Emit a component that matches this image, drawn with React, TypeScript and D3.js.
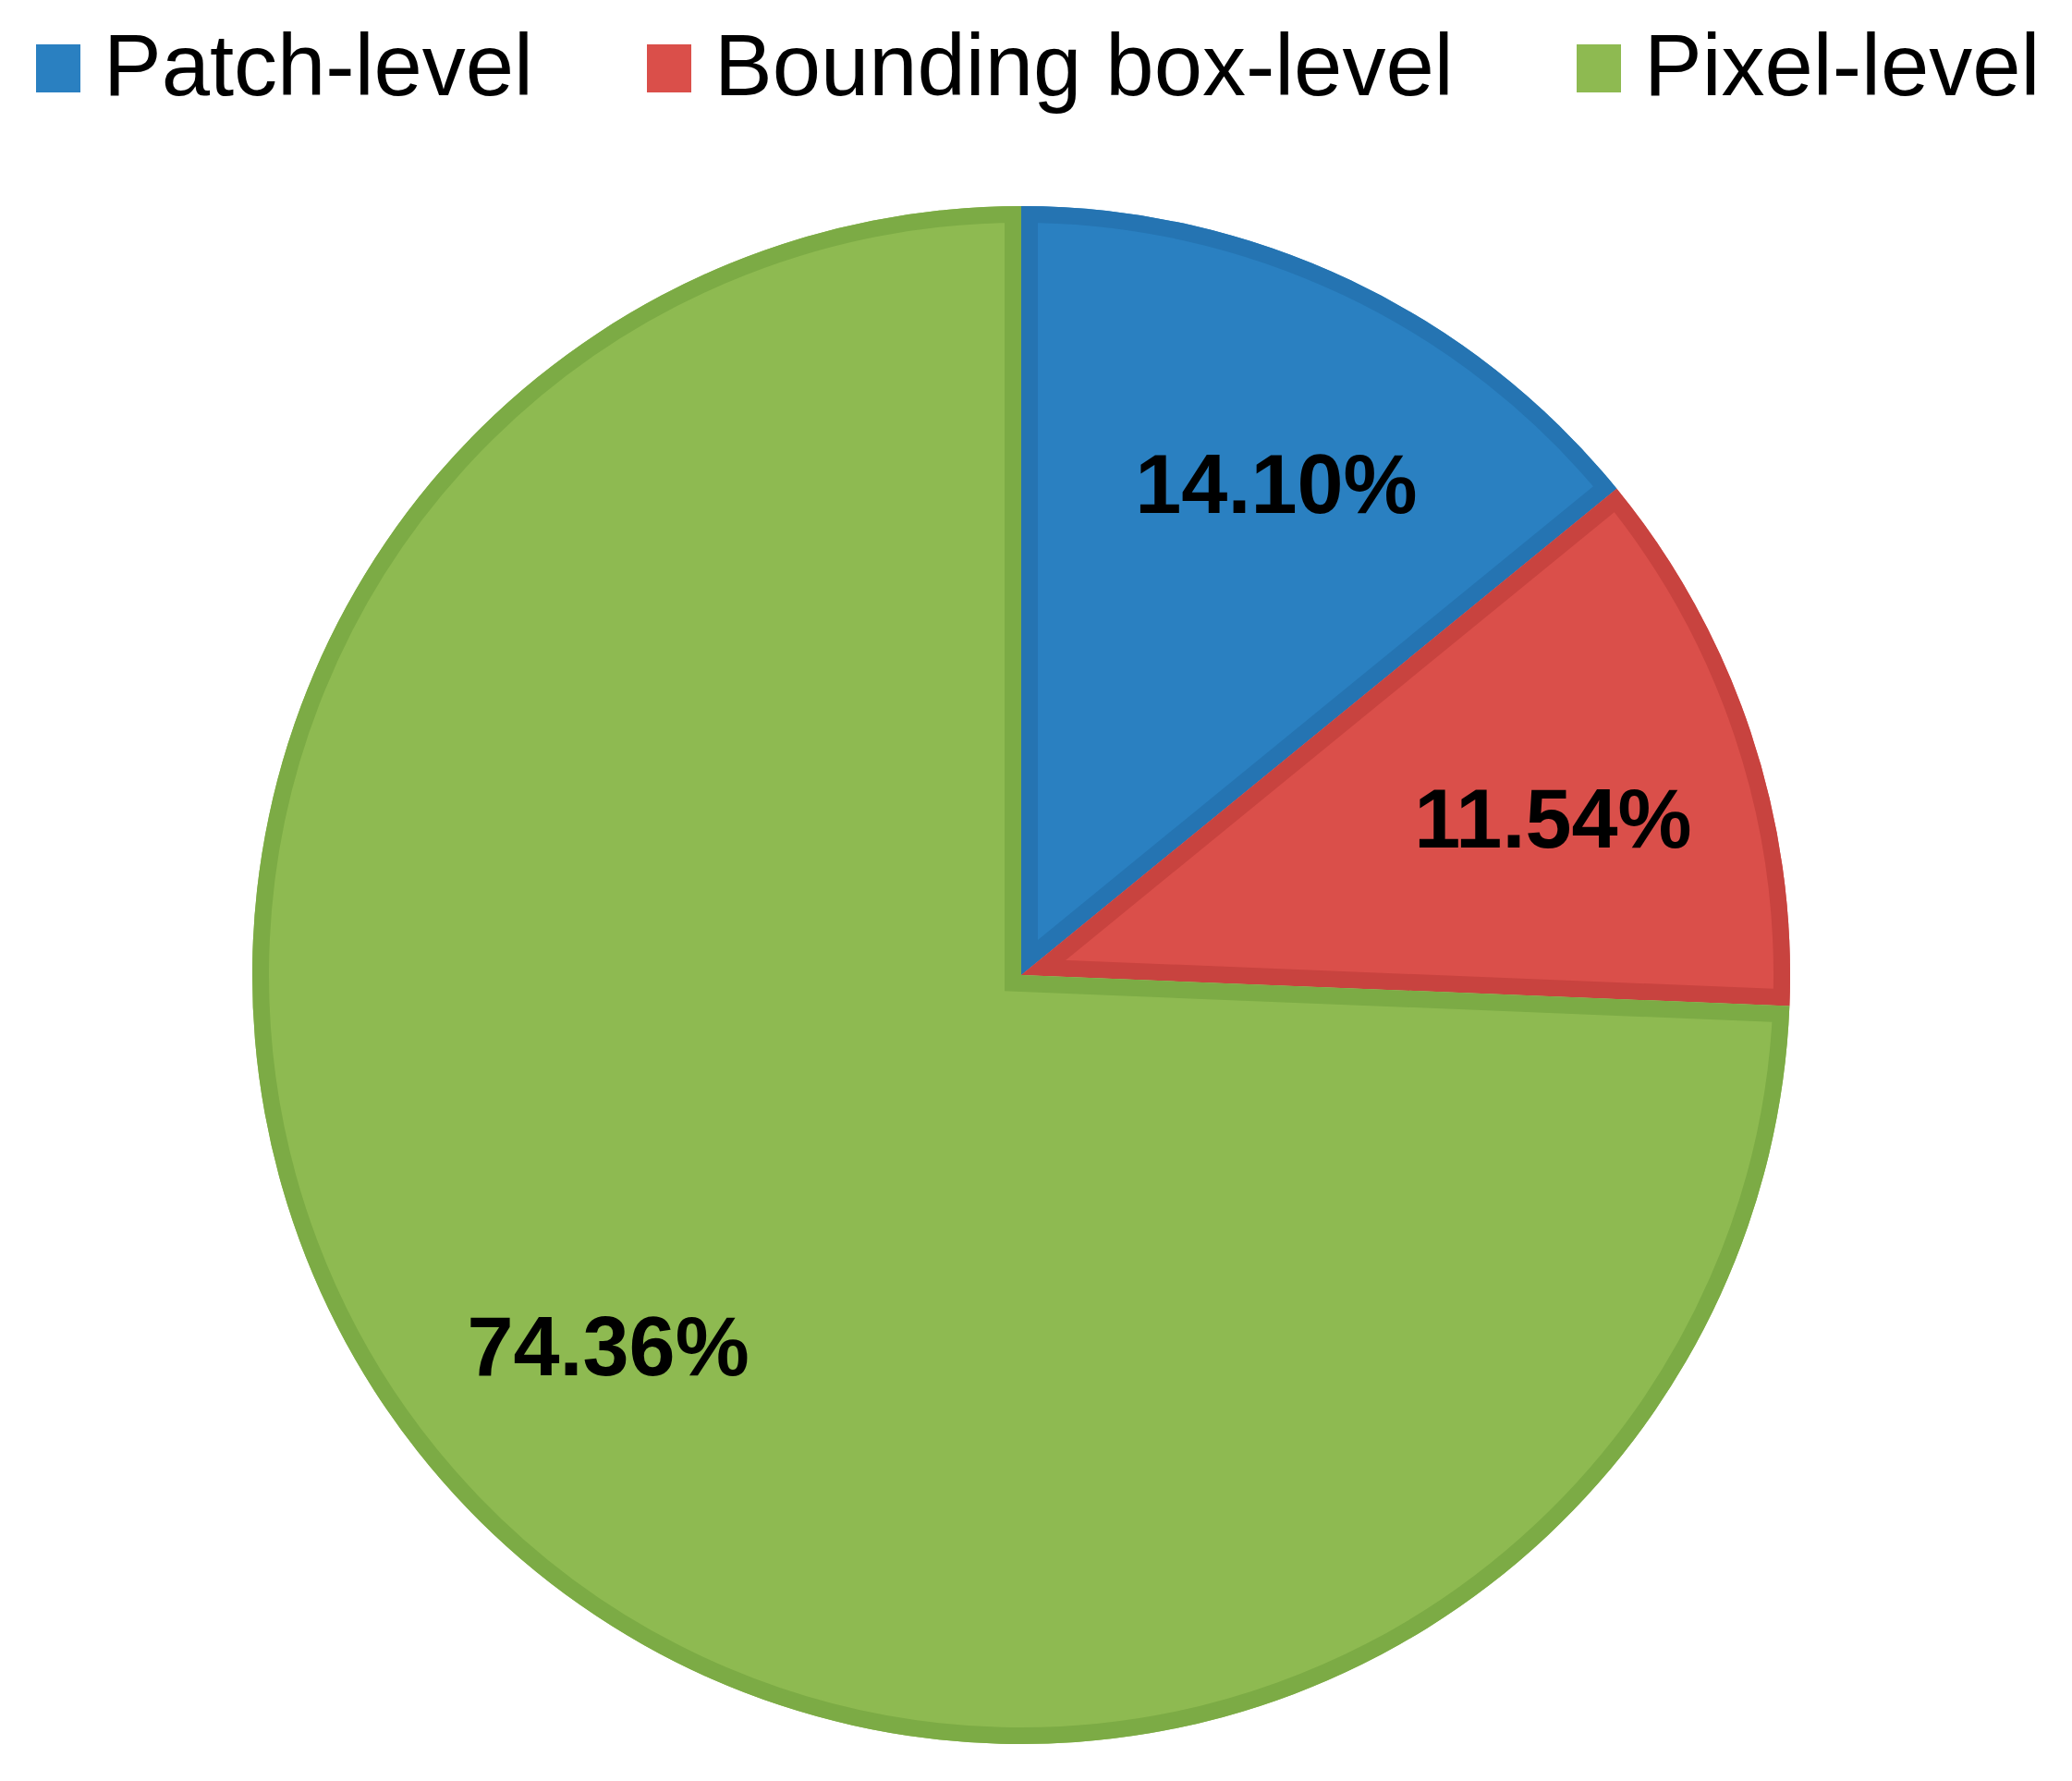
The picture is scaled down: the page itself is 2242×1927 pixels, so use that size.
import React from 'react';
import * as d3 from 'd3';

const categories = ['Patch-level', 'Bounding box-level', 'Pixel-level'];
const shares = [14.1, 11.54, 74.36];
const labels = ['14.10%', '11.54%', '74.36%'];
const fills = ['#2a80c1', '#da4f4a', '#8eba51'];
const borders = ['#2574b2', '#c8433f', '#7cab45'];

const W = 2242;
const H = 1927;
const cx = 1105;
const cy = 1055;
const R = 832;
const border = 18;
const labelR = 600;
const labelTurn = (2 * Math.PI) / 180; // labels sit a touch clockwise of the slice middle

export default function App() {
  const pie = d3.pie<number>().sort(null).value(d => d);
  const arcs = pie(shares);
  const arc = d3.arc<d3.PieArcDatum<number>>().innerRadius(0).outerRadius(R);

  // legend positions (left edge of each swatch)
  const legendX = [39, 700, 1706];

  return (
    <svg
      width={W}
      height={H}
      style={{ position: 'absolute', left: 0, top: 0, background: '#fff' }}
      fontFamily="'Liberation Sans', Arial, sans-serif"
    >
      <defs>
        {arcs.map((a, i) => (
          <clipPath id={`clip-${i}`} key={i}>
            <path d={arc(a) || ''} />
          </clipPath>
        ))}
      </defs>

      <g transform={`translate(${cx},${cy})`}>
        {arcs.map((a, i) => (
          <g key={i}>
            <path d={arc(a) || ''} fill={fills[i]} />
            <path
              d={arc(a) || ''}
              fill="none"
              stroke={borders[i]}
              strokeWidth={border * 2}
              strokeLinejoin="miter"
              clipPath={`url(#clip-${i})`}
            />
          </g>
        ))}
        {arcs.map((a, i) => {
          const mid = (a.startAngle + a.endAngle) / 2 + labelTurn;
          const x = Math.sin(mid) * labelR;
          const y = -Math.cos(mid) * labelR;
          return (
            <text
              key={i}
              x={x}
              y={y}
              dy="0.36em"
              textAnchor="middle"
              fontSize={90}
              fontWeight="bold"
              fill="#000"
            >
              {labels[i]}
            </text>
          );
        })}
      </g>

      {categories.map((c, i) => (
        <g key={c} transform={`translate(${legendX[i]},0)`}>
          <rect x={0} y={48} width={48} height={52} fill={fills[i]} />
          <text x={73} y={103} fontSize={94} fill="#000">
            {c}
          </text>
        </g>
      ))}
    </svg>
  );
}
